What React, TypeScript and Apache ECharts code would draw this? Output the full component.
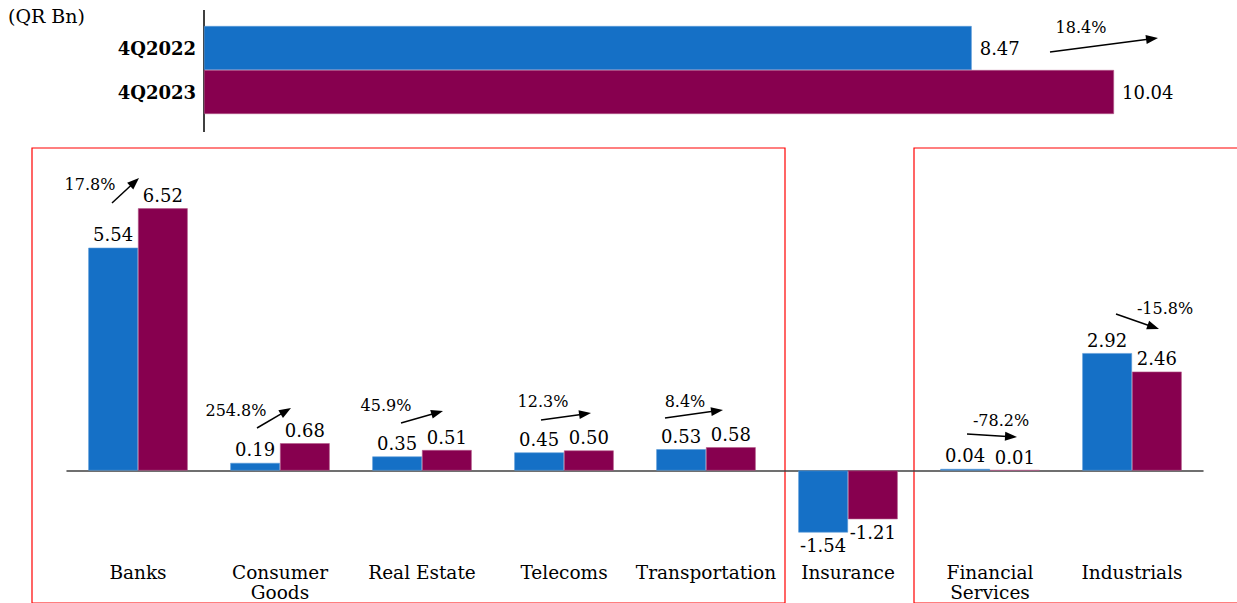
import React, { useEffect, useRef } from "react";
import * as echarts from "echarts";

const FONT = '"DejaVu Serif", serif';
const BLUE = "#1570C6";
const MAROON = "#87004F";

// Top summary chart
const totalPeriods = ["4Q2022", "4Q2023"];
const totalValues = [8.47, 10.04];
const totalGrowth = "18.4%";

// Sector chart
const sectors = [
  "Banks",
  "Consumer\nGoods",
  "Real Estate",
  "Telecoms",
  "Transportation",
  "Insurance",
  "Financial\nServices",
  "Industrials",
];
const values2022 = [5.54, 0.19, 0.35, 0.45, 0.53, -1.54, 0.04, 2.92];
const values2023 = [6.52, 0.68, 0.51, 0.5, 0.58, -1.21, 0.01, 2.46];
const sectorGrowth = ["17.8%", "254.8%", "45.9%", "12.3%", "8.4%", "", "-78.2%", "-15.8%"];

// annotation placement (pixels): [textX, textY, x1, y1, x2, y2]
const sectorArrowPos: number[][] = [
  [90, 184, 112, 203, 139, 178],
  [236, 410, 257, 428, 291, 408],
  [386, 405, 401, 423, 443, 411],
  [543, 401, 541, 420, 591, 413],
  [685, 401, 665, 418, 723, 410],
  [0, 0, 0, 0, 0, 0],
  [1001, 420, 967, 434, 1017, 437],
  [1165, 308, 1116, 314, 1159, 329],
];
const topArrowPos = [1081, 27, 1050, 52, 1158, 38];

function arrow(x1: number, y1: number, x2: number, y2: number) {
  const dx = x2 - x1;
  const dy = y2 - y1;
  const len = Math.sqrt(dx * dx + dy * dy);
  const ux = dx / len;
  const uy = dy / len;
  const head = 12;
  const half = 4.5;
  const bx = x2 - ux * head;
  const by = y2 - uy * head;
  return [
    {
      type: "line",
      shape: { x1, y1, x2: bx + ux * 2, y2: by + uy * 2 },
      style: { stroke: "#000", lineWidth: 1.5 },
      z: 100,
    },
    {
      type: "polygon",
      shape: {
        points: [
          [x2, y2],
          [bx - uy * half, by + ux * half],
          [bx + uy * half, by - ux * half],
        ],
      },
      style: { fill: "#000" },
      z: 100,
    },
  ];
}

function pctText(text: string, x: number, y: number) {
  return {
    type: "text",
    z: 100,
    style: {
      text,
      x,
      y,
      font: `16px ${FONT}`,
      fill: "#000",
      textAlign: "center",
      align: "center",
      textVerticalAlign: "middle",
      verticalAlign: "middle",
    },
  };
}

export default function App() {
  const ref = useRef<HTMLDivElement>(null);
  useEffect(() => {
    if (!ref.current) return;
    const chart = echarts.init(ref.current, undefined, { renderer: "svg" });

    const graphics: any[] = [];
    graphics.push({
      type: "line",
      shape: { x1: 204, y1: 10, x2: 204, y2: 132 },
      style: { stroke: "#000", lineWidth: 1.5 },
    });
    graphics.push({
      type: "text",
      style: {
        text: "(QR Bn)",
        x: 8,
        y: 16,
        font: `19px ${FONT}`,
        fill: "#000",
        textVerticalAlign: "middle",
        verticalAlign: "middle",
      },
    });
    graphics.push({
      type: "rect",
      shape: { x: 32, y: 148, width: 753, height: 455 },
      style: { stroke: "#FF0000", fill: "none", lineWidth: 1.2 },
    });
    graphics.push({
      type: "rect",
      shape: { x: 914, y: 148, width: 330, height: 455 },
      style: { stroke: "#FF0000", fill: "none", lineWidth: 1.2 },
    });
    graphics.push(pctText(totalGrowth, topArrowPos[0], topArrowPos[1]));
    graphics.push(...arrow(topArrowPos[2], topArrowPos[3], topArrowPos[4], topArrowPos[5]));
    sectorGrowth.forEach((g, i) => {
      if (!g) return;
      const p = sectorArrowPos[i];
      graphics.push(pctText(g, p[0], p[1]));
      graphics.push(...arrow(p[2], p[3], p[4], p[5]));
    });

    const labelStyle = {
      show: true,
      fontFamily: FONT,
      fontSize: 18,
      color: "#000",
      distance: 4,
      formatter: (p: any) => Number(p.value).toFixed(2),
    };
    const mkData = (arr: number[]) =>
      arr.map((v) => ({
        value: v,
        label: { position: v < 0 ? "bottom" : "top" },
      }));

    chart.setOption({
      animation: false,
      backgroundColor: "#fff",
      textStyle: { fontFamily: FONT },
      grid: [
        { left: 204, top: 26, height: 88, right: 36, containLabel: false, outerBoundsMode: "none" },
        { left: 67, right: 34, top: 189, height: 362, containLabel: false, outerBoundsMode: "none" },
      ],
      xAxis: [
        { type: "value", gridIndex: 0, min: 0, max: 11, show: false },
        {
          type: "category",
          gridIndex: 1,
          data: sectors,
          axisLine: { onZero: true, lineStyle: { color: "#404040", width: 1.5 } },
          axisTick: { show: false },
          axisLabel: {
            interval: 0,
            margin: 11,
            fontFamily: FONT,
            fontSize: 18.5,
            lineHeight: 20,
            color: "#000",
          },
        },
      ],
      yAxis: [
        {
          type: "category",
          gridIndex: 0,
          data: totalPeriods,
          inverse: true,
          axisLine: { show: false },
          axisTick: { show: false },
          axisLabel: {
            margin: 8,
            fontFamily: FONT,
            fontSize: 18,
            fontWeight: "bold",
            color: "#000",
          },
        },
        {
          type: "value",
          gridIndex: 1,
          min: -2,
          max: 7,
          show: false,
          splitLine: { show: false },
        },
      ],
      series: [
        {
          type: "bar",
          xAxisIndex: 0,
          yAxisIndex: 0,
          barCategoryGap: "0%",
          data: totalValues.map((v, i) => ({
            value: v,
            itemStyle: {
              color: i === 0 ? BLUE : MAROON,
              borderColor: i === 0 ? "#5a9ad8" : "#b35a8a",
              borderWidth: 0.6,
            },
          })),
          label: {
            show: true,
            position: "right",
            distance: 8,
            fontFamily: FONT,
            fontSize: 18,
            color: "#000",
            formatter: (p: any) => Number(p.value).toFixed(2),
          },
        },
        {
          type: "bar",
          name: "4Q2022",
          xAxisIndex: 1,
          yAxisIndex: 1,
          barGap: "0%",
          barCategoryGap: "30%",
          itemStyle: { color: BLUE, borderColor: "#5a9ad8", borderWidth: 0.6 },
          label: labelStyle,
          data: mkData(values2022),
        },
        {
          type: "bar",
          name: "4Q2023",
          xAxisIndex: 1,
          yAxisIndex: 1,
          barGap: "0%",
          barCategoryGap: "30%",
          itemStyle: { color: MAROON, borderColor: "#b35a8a", borderWidth: 0.6 },
          label: labelStyle,
          data: mkData(values2023),
        },
      ],
      graphic: graphics,
    });
    return () => chart.dispose();
  }, []);
  return (
    <div
      ref={ref}
      style={{ position: "fixed", left: 0, top: 0, width: 1237, height: 603, background: "#fff" }}
    />
  );
}
